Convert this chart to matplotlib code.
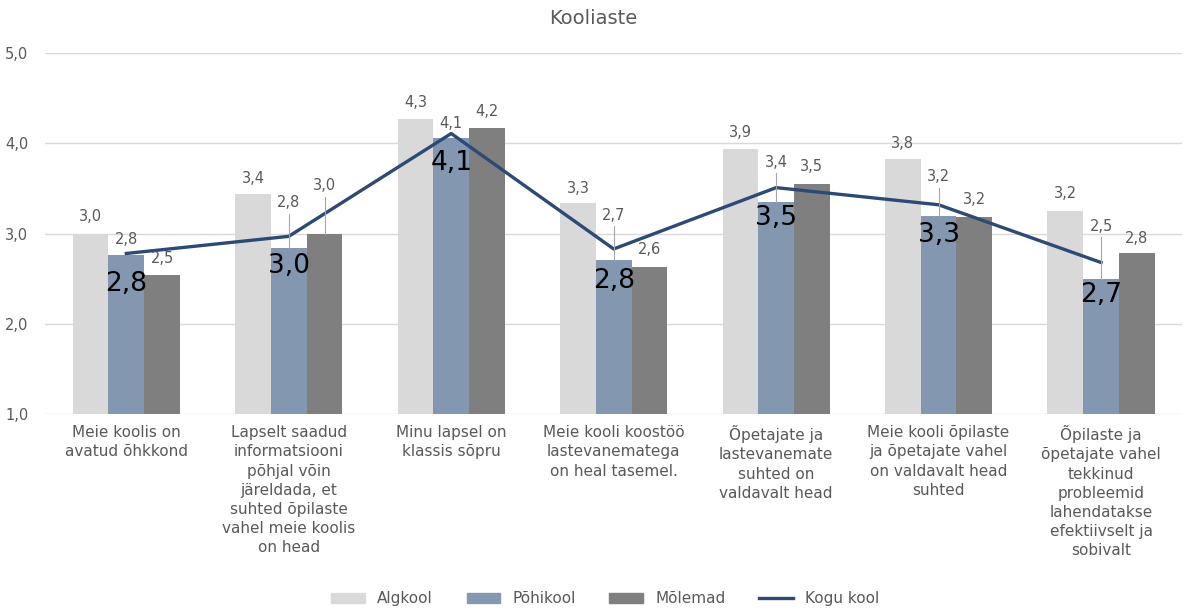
import matplotlib.pyplot as plt
import numpy as np
from matplotlib.patches import Patch
from matplotlib.lines import Line2D

categories = [
    "Meie koolis on\navatud õhkkond",
    "Lapselt saadud\ninformatsiooni\npõhjal võin\njäreldada, et\nsuhted õpilaste\nvahel meie koolis\non head",
    "Minu lapsel on\nklassis sõpru",
    "Meie kooli koostöö\nlastevanematega\non heal tasemel.",
    "Õpetajate ja\nlastevanemate\nsuhted on\nvaldavalt head",
    "Meie kooli õpilaste\nja õpetajate vahel\non valdavalt head\nsuhted",
    "Õpilaste ja\nõpetajate vahel\ntekkinud\nprobleemid\nlahendatakse\nefektiivselt ja\nsobivalt",
]
algkool = [2.99, 3.44, 4.27, 3.34, 3.94, 3.83, 3.25]
pohikool = [2.76, 2.84, 4.06, 2.71, 3.35, 3.19, 2.50]
molemad = [2.54, 3.00, 4.17, 2.63, 3.55, 3.18, 2.78]
kogu_kool = [2.78, 2.97, 4.11, 2.83, 3.51, 3.32, 2.68]

# label placement (y in data units)
alg_label_y = [3.19, 3.61, 4.45, 3.50, 4.12, 4.00, 3.45]
pohi_label_y = [2.93, 3.34, 4.22, 3.20, 3.79, 3.63, 3.08]
mol_label_y = [2.72, 3.53, 4.35, 2.82, 3.74, 3.38, 2.95]
kogu_label_y = [2.44, 2.64, 3.78, 2.48, 3.17, 2.98, 2.32]

c_alg = "#d9d9d9"
c_pohi = "#8497b0"
c_mol = "#7f7f7f"
c_line = "#2c4a74"
c_text = "#595959"

plt.rcParams["font.family"] = ["DejaVu Sans"]

fig = plt.figure(figsize=(11.87, 6.12), dpi=100)
ax = fig.add_axes([0.038, 0.3235, 0.958, 0.5895])

x = np.arange(len(categories))
w = 0.22

ax.bar(x - w, algkool, w, color=c_alg, zorder=2)
ax.bar(x, pohikool, w, color=c_pohi, zorder=2)
ax.bar(x + w, molemad, w, color=c_mol, zorder=2)
ax.plot(x, kogu_kool, color=c_line, lw=2.4, zorder=3)


def fmt(v):
    return f"{v:.1f}".replace(".", ",")


def put_labels(xs, vals, label_y):
    for xi, v, ly in zip(xs, vals, label_y):
        ax.text(xi, ly, fmt(v), ha="center", va="center", fontsize=10.5,
                color=c_text, zorder=5)
        if ly - v > 0.3:
            ax.plot([xi, xi], [v, ly - 0.12], color="#a6a6a6", lw=0.8, zorder=4)


put_labels(x - w, algkool, alg_label_y)
put_labels(x, pohikool, pohi_label_y)
put_labels(x + w, molemad, mol_label_y)

for xi, v, ly in zip(x, kogu_kool, kogu_label_y):
    ax.text(xi, ly, fmt(v), ha="center", va="center", fontsize=19,
            color="black", zorder=5)

ax.set_ylim(1, 5)
ax.set_xlim(-0.5, len(categories) - 0.5)
ax.set_yticks([1, 2, 3, 4, 5])
ax.set_yticklabels([fmt(t) for t in [1, 2, 3, 4, 5]], fontsize=10.5, color=c_text)
ax.tick_params(axis="y", length=0, pad=12)
ax.set_xticks(x)
ax.set_xticklabels(categories, fontsize=11, color=c_text, linespacing=1.35, va="top")
ax.tick_params(axis="x", length=0, pad=8)
ax.grid(axis="y", color="#d9d9d9", lw=1, zorder=0)
ax.set_axisbelow(True)
for s in ax.spines.values():
    s.set_visible(False)

fig.text(0.5, 0.97, "Kooliaste", ha="center", va="center", fontsize=14, color=c_text)

handles = [
    Patch(color=c_alg, label="Algkool"),
    Patch(color=c_pohi, label="Põhikool"),
    Patch(color=c_mol, label="Mõlemad"),
    Line2D([], [], color=c_line, lw=2.4, label="Kogu kool"),
]
fig.legend(handles=handles, loc="center", bbox_to_anchor=(0.51, 0.022), ncol=4,
           frameon=False, fontsize=11, labelcolor=c_text, handlelength=2.2,
           handleheight=0.6, columnspacing=2.2)

fig.savefig("out.png", dpi=100)
